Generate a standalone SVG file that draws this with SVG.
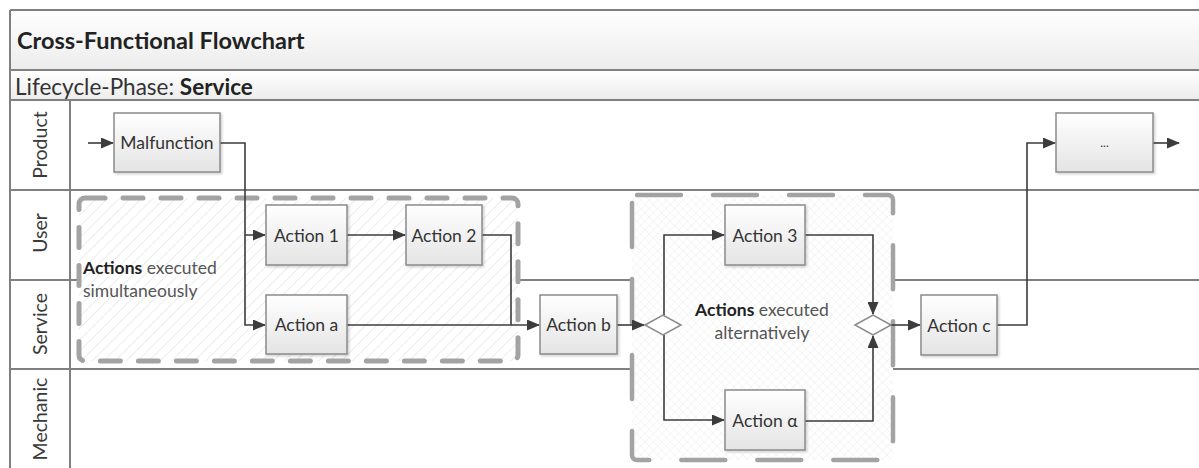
<svg xmlns="http://www.w3.org/2000/svg" width="1199" height="468" viewBox="0 0 1199 468">
<style>
.lane{stroke:#808080;stroke-width:2;fill:none}
.box{fill:url(#bg);stroke:#8a8a8a;stroke-width:1.5}
.dia{fill:#fff;stroke:#8a8a8a;stroke-width:1.5}
.t{font-family:Lato,"Liberation Sans",sans-serif;fill:#333;text-anchor:middle;dominant-baseline:central}
.c{fill:none;stroke:#3c3c3c;stroke-width:1.6}
.hdr{font-family:Lato,"Liberation Sans",sans-serif;fill:#3a3a3a;font-size:19.5px;text-anchor:middle;dominant-baseline:central}
.g1{fill:url(#hatch);stroke:#a3a3a3;stroke-width:5;stroke-dasharray:20 18;stroke-linecap:round}
.g2{fill:url(#cross);stroke:#a3a3a3;stroke-width:4.5;stroke-dasharray:44 32;stroke-linecap:round}
.note{font-family:Lato,"Liberation Sans",sans-serif;font-size:17.5px;fill:#555}
.note tspan.b{font-weight:bold;fill:#222}
</style>
<defs>
<linearGradient id="bg" x1="0" y1="0" x2="0" y2="1"><stop offset="0" stop-color="#ffffff"/><stop offset="1" stop-color="#e4e4e4"/></linearGradient>
<linearGradient id="band" x1="0" y1="0" x2="0" y2="1"><stop offset="0" stop-color="#ffffff"/><stop offset="1" stop-color="#ececec"/></linearGradient>
<pattern id="hatch" width="8" height="8" patternUnits="userSpaceOnUse" patternTransform="rotate(45)"><rect width="8" height="8" fill="#fff"/><line x1="0" y1="0" x2="0" y2="8" stroke="#e6e6e6" stroke-width="1.5"/></pattern>
<pattern id="cross" width="6" height="6" patternUnits="userSpaceOnUse" patternTransform="rotate(45)"><rect width="6" height="6" fill="#fff"/><path d="M0 0H6M0 0V6" stroke="#eeeeee" stroke-width="1"/></pattern>
<marker id="ah" markerWidth="13" markerHeight="11" refX="12" refY="5.5" orient="auto" markerUnits="userSpaceOnUse"><path d="M0 0L13 5.5L0 11Z" fill="#3c3c3c"/></marker>
<filter id="sh" x="-10%" y="-10%" width="130%" height="130%"><feDropShadow dx="1.5" dy="1.5" stdDeviation="1" flood-color="#000" flood-opacity="0.18"/></filter>
</defs>
<rect width="1199" height="468" fill="#fff"/>
<g id="frame">
<rect x="10" y="10" width="1200" height="60" fill="url(#band)"/>
<rect x="10" y="70" width="1200" height="30" fill="url(#band)"/>
<path class="lane" d="M10 10H1199M10 70H1199M10 100H1199M10 10V468M70 100V468M10 190H1199"/>
<path class="lane" d="M10 280H79M518 280H632M893 280H1199M10 369H632M893 369H1199"/>
<text x="17" y="40" font-family="Lato,'Liberation Sans',sans-serif" font-size="23.5" font-weight="bold" fill="#222" dominant-baseline="central">Cross-Functional Flowchart</text>
<text x="15" y="86" font-family="Lato,'Liberation Sans',sans-serif" font-size="22.5" fill="#333" dominant-baseline="central">Lifecycle-Phase: <tspan font-weight="bold" fill="#222">Service</tspan></text>
</g>
<g id="lanes">
<text class="hdr" transform="translate(39,145) rotate(-90)">Product</text>
<text class="hdr" transform="translate(39,233) rotate(-90)">User</text>
<text class="hdr" transform="translate(39,324) rotate(-90)">Service</text>
<text class="hdr" transform="translate(39,419) rotate(-90)">Mechanic</text>
</g>
<g id="group-simultaneous">
<rect class="g1" x="79" y="198" width="439" height="163" rx="6"/>
<text class="note" x="83" y="274"><tspan class="b">Actions</tspan> executed</text>
<text class="note" x="83" y="297">simultaneously</text>
</g>
<g id="group-alternative">
<rect class="g2" x="632" y="195" width="261" height="265" rx="5"/>
<text class="note" x="762" y="316" text-anchor="middle"><tspan class="b">Actions</tspan> executed</text>
<text class="note" x="762" y="339" text-anchor="middle">alternatively</text>
</g>
<g id="connectors">
<path class="c" d="M88 143H113" marker-end="url(#ah)"/>
<path class="c" d="M220 143H245V235H265" marker-end="url(#ah)"/>
<path class="c" d="M245 235V325H265" marker-end="url(#ah)"/>
<path class="c" d="M347 235H405" marker-end="url(#ah)"/>
<path class="c" d="M482 235H511V325" />
<path class="c" d="M347 325H539" marker-end="url(#ah)"/>
<path class="c" d="M617 325H644" marker-end="url(#ah)"/>
<path class="c" d="M664 315V235H724" marker-end="url(#ah)"/>
<path class="c" d="M664 335V420H724" marker-end="url(#ah)"/>
<path class="c" d="M805 235H873V314" marker-end="url(#ah)"/>
<path class="c" d="M805 421H873V336" marker-end="url(#ah)"/>
<path class="c" d="M891 325H920" marker-end="url(#ah)"/>
<path class="c" d="M997 325H1027V143H1055" marker-end="url(#ah)"/>
<path class="c" d="M1153 143H1179" marker-end="url(#ah)"/>
</g>
<g id="node-malfunction"><rect class="box" filter="url(#sh)" x="114" y="113" width="106" height="59"/><text class="t" x="167" y="142.5" font-size="17.5">Malfunction</text></g>
<g id="node-action1"><rect class="box" filter="url(#sh)" x="266" y="205" width="81" height="60"/><text class="t" x="306.5" y="235" font-size="17.5">Action 1</text></g>
<g id="node-action2"><rect class="box" filter="url(#sh)" x="406" y="205" width="76" height="60"/><text class="t" x="444" y="235" font-size="17.5">Action 2</text></g>
<g id="node-actiona"><rect class="box" filter="url(#sh)" x="266" y="295" width="81" height="59"/><text class="t" x="306.5" y="324.5" font-size="17.5">Action a</text></g>
<g id="node-actionb"><rect class="box" filter="url(#sh)" x="540" y="295" width="77" height="59"/><text class="t" x="578.5" y="324.5" font-size="17.5">Action b</text></g>
<g id="node-split"><path class="dia" d="M645 325L663 315L681 325L663 335Z"/></g>
<g id="node-action3"><rect class="box" filter="url(#sh)" x="725" y="205" width="80" height="60"/><text class="t" x="765" y="235" font-size="17.5">Action 3</text></g>
<g id="node-actionalpha"><rect class="box" filter="url(#sh)" x="725" y="390" width="80" height="60"/><text class="t" x="765" y="420" font-size="17.5">Action α</text></g>
<g id="node-join"><path class="dia" d="M855 325L873 315L891 325L873 335Z"/></g>
<g id="node-actionc"><rect class="box" filter="url(#sh)" x="921" y="295" width="76" height="60"/><text class="t" x="959" y="325" font-size="17.5">Action c</text></g>
<g id="node-more"><rect class="box" filter="url(#sh)" x="1056" y="113" width="97" height="59"/><text class="t" x="1104.5" y="142.5" font-size="12">...</text></g>
</svg>
